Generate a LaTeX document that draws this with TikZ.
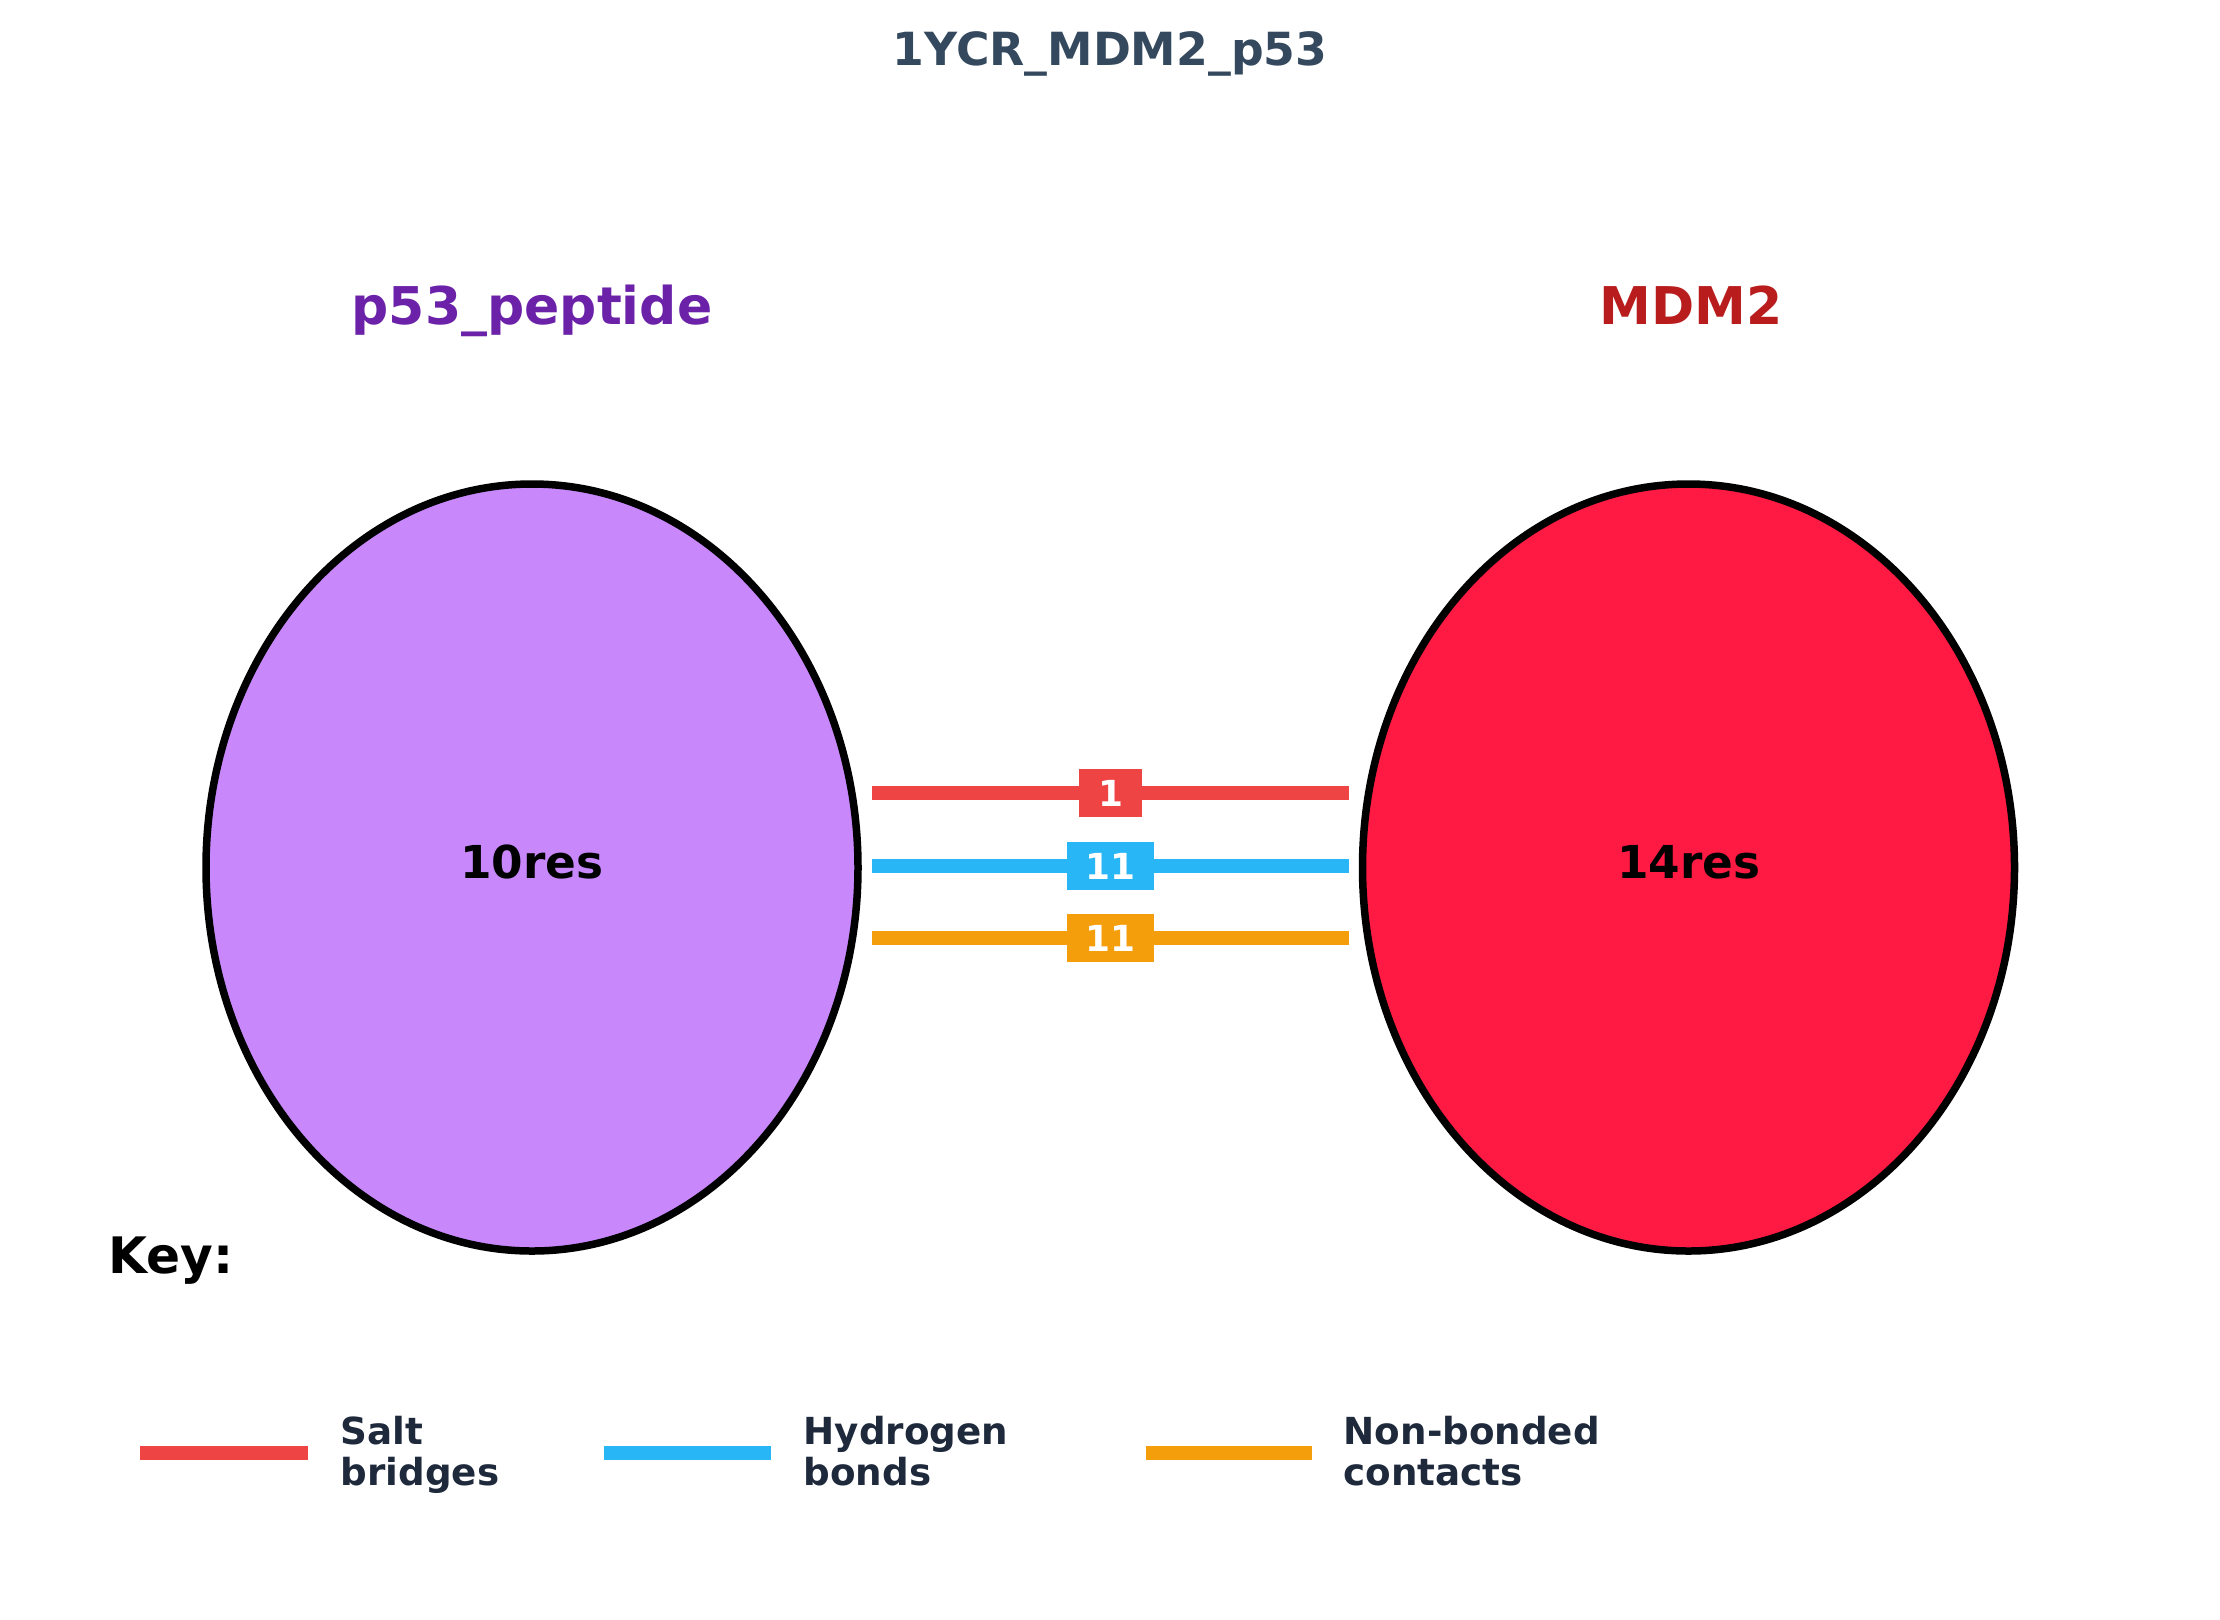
\documentclass[tikz,border=0pt]{standalone}
\usepackage{fontspec}
\setmainfont{DejaVu Sans}
\usetikzlibrary{shapes.geometric}
\definecolor{titlec}{HTML}{34495E}
\definecolor{p53c}{HTML}{6B21A8}
\definecolor{mdmc}{HTML}{B91C1C}
\definecolor{p53fill}{HTML}{C888FC}
\definecolor{mdmfill}{HTML}{FF1A44}
\definecolor{saltc}{HTML}{EF4444}
\definecolor{hbc}{HTML}{29B6F6}
\definecolor{nbc}{HTML}{F59E0B}
\definecolor{legc}{HTML}{1E293B}
\begin{document}
\begin{tikzpicture}[x=1cm,y=1cm,
  grp/.style={ellipse, draw=black, line width=0.075cm, minimum width=6.52cm, minimum height=7.67cm, inner sep=0pt},
  bond/.style={line width=0.145cm},
  cnt/.style={text=white, font=\fontsize{10.2}{12}\selectfont\bfseries, inner xsep=0.19cm, inner ysep=0.11cm, text height=0.26cm, text depth=0pt},
  grpname/.style={anchor=base, inner sep=0pt, font=\fontsize{14.8}{17}\selectfont\bfseries},
  res/.style={anchor=base, inner sep=0pt, font=\fontsize{12.9}{15}\selectfont\bfseries},
  leg/.style={anchor=base west, align=left, text=legc, inner sep=0pt, font=\fontsize{10.6}{11.66}\selectfont\bfseries}
]
\useasboundingbox (0,0) rectangle (22.2,-16.19);
\node[anchor=base, text=titlec, inner sep=0pt, font=\fontsize{13.0}{16}\selectfont\bfseries] (title) at (11.10,-0.655) {1YCR\_MDM2\_p53};

\node[grpname, text=p53c] (p53name) at (5.32,-3.24) {p53\_peptide};
\node[grpname, text=mdmc] (mdmname) at (16.91,-3.24) {MDM2};

\node[grp, fill=p53fill] (p53) at (5.32,-8.675) {};
\node[grp, fill=mdmfill] (mdm) at (16.885,-8.675) {};
\node[res] (p53res) at (5.32,-8.78) {10res};
\node[res] (mdmres) at (16.89,-8.78) {14res};

\coordinate (s1) at (8.72,-7.93);
\coordinate (s2) at (13.49,-7.93);
\coordinate (h1) at (8.72,-8.66);
\coordinate (h2) at (13.49,-8.66);
\coordinate (n1) at (8.72,-9.38);
\coordinate (n2) at (13.49,-9.38);
\draw[bond, saltc] (s1) -- node[cnt, fill=saltc] (sl) {1} (s2);
\draw[bond, hbc] (h1) -- node[cnt, fill=hbc] (hl) {11} (h2);
\draw[bond, nbc] (n1) -- node[cnt, fill=nbc] (nl) {11} (n2);

\node[anchor=base west, inner sep=0pt, font=\fontsize{14.3}{17}\selectfont\bfseries] (key) at (1.08,-12.73) {Key:};

\coordinate (la1) at (1.40,-14.53);
\coordinate (la2) at (3.08,-14.53);
\coordinate (lb1) at (6.04,-14.53);
\coordinate (lb2) at (7.71,-14.53);
\coordinate (lc1) at (11.46,-14.53);
\coordinate (lc2) at (13.12,-14.53);
\draw[bond, saltc] (la1) -- (la2);
\draw[bond, hbc] (lb1) -- (lb2);
\draw[bond, nbc] (lc1) -- (lc2);
\node[leg] (lta) at (3.40,-14.85) {Salt\\bridges};
\node[leg] (ltb) at (8.03,-14.85) {Hydrogen\\bonds};
\node[leg] (ltc) at (13.43,-14.85) {Non-bonded\\contacts};
\end{tikzpicture}
\end{document}
